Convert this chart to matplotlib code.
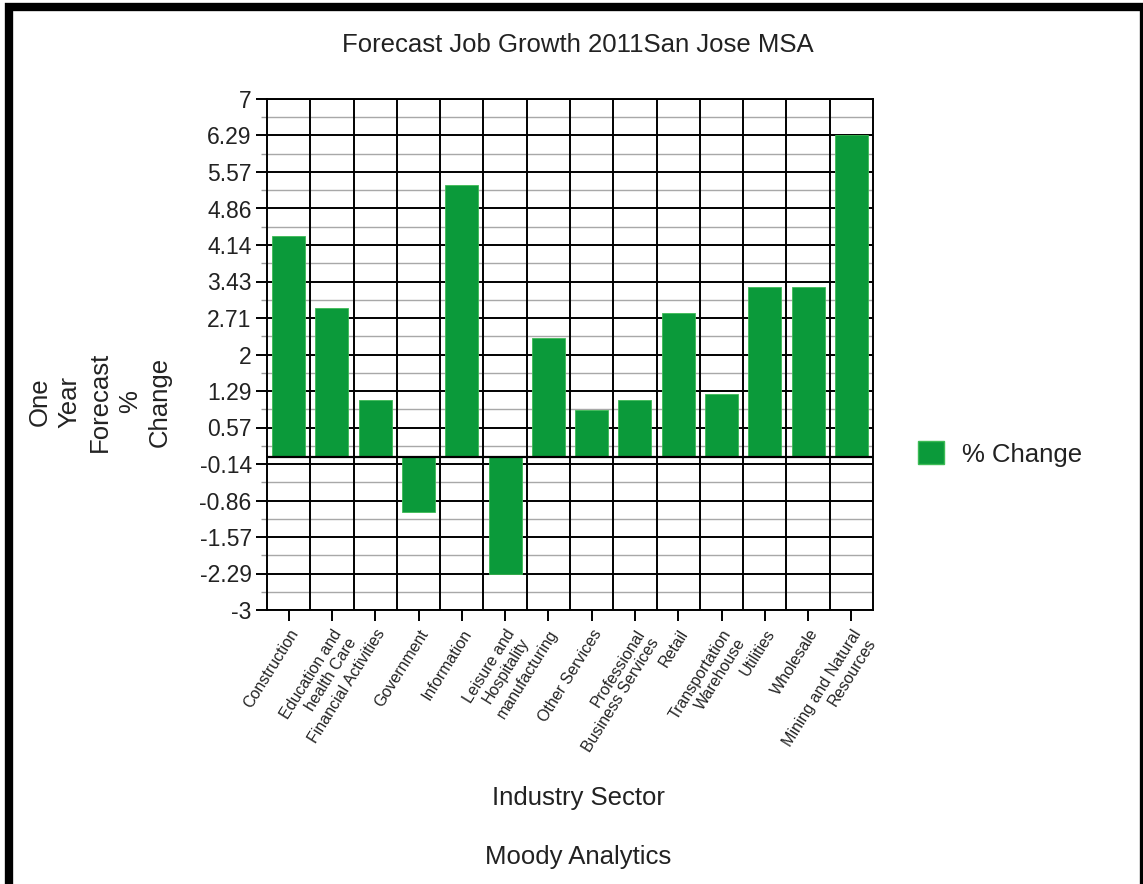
import numpy as np
import matplotlib
matplotlib.use("Agg")
import matplotlib.pyplot as plt
from matplotlib.patches import Rectangle, Patch

plt.rcParams["font.family"] = ["Liberation Sans", "DejaVu Sans"]

# data
sectors = [
    "Construction", "Education and\nhealth Care", "Financial Activities",
    "Government", "Information", "Leisure and\nHospitality", "manufacturing",
    "Other Services", "Professional\nBusiness Services", "Retail",
    "Transportation\nWarehouse", "Utilities", "Wholesale",
    "Mining and Natural\nResources",
]
pct_change = [4.32, 2.91, 1.11, -1.08, 5.31, -2.30, 2.32,
              0.91, 1.11, 2.81, 1.23, 3.32, 3.32, 6.29]
ytick_labels = ["-3", "-2.29", "-1.57", "-0.86", "-0.14", "0.57", "1.29",
                "2", "2.71", "3.43", "4.14", "4.86", "5.57", "6.29", "7"]
ymin, ymax = -3, 7
green = "#0b9a3a"
txt = "#222222"

W, H = 1143, 884
fig = plt.figure(figsize=(W / 100, H / 100), dpi=100)
ax = fig.add_axes([267 / W, 1 - 610 / H, 606 / W, 511 / H])

x = np.arange(len(sectors))
ax.bar(x, pct_change, width=0.76, color=green, edgecolor="#3dbb55",
       linewidth=0.6, zorder=3)

ax.set_xlim(-0.5, len(sectors) - 0.5)
ax.set_ylim(ymin, ymax)

yt = np.linspace(ymin, ymax, len(ytick_labels))
ax.set_yticks(yt)
ax.set_yticklabels(ytick_labels, fontsize=16.5, color=txt)
ax.set_yticks((yt[:-1] + yt[1:]) / 2, minor=True)
ax.tick_params(axis="y", which="major", length=8, width=1.4, color="black", pad=3)
ax.tick_params(axis="y", which="minor", length=4, width=1, color="#9a9a9a")

ax.set_xticks(x)
ax.set_xticklabels(sectors, rotation=58, ha="right", rotation_mode="anchor",
                   fontsize=11.5, color=txt, linespacing=1.15)
ax.tick_params(axis="x", length=8, width=1.4, pad=4)

# grid: black majors, gray minors, vertical lines between categories
ax.grid(axis="y", which="major", color="black", linewidth=1.4, zorder=0)
ax.grid(axis="y", which="minor", color="#a8a8a8", linewidth=1.0, zorder=0)
for b in np.arange(0.5, len(sectors) - 1, 1.0):
    ax.axvline(b, color="black", linewidth=1.4, zorder=1)
ax.axhline(0, color="black", linewidth=1.6, zorder=4)
ax.set_axisbelow(True)
for s in ax.spines.values():
    s.set_color("black")
    s.set_linewidth(1.4)

fig.text(578 / W, 1 - 45 / H, "Forecast Job Growth 2011San Jose MSA",
         ha="center", va="center", fontsize=18.5, color=txt)
fig.text(100 / W, 1 - 402 / H, "One\nYear\nForecast\n%\nChange", rotation=90,
         ha="center", va="center", multialignment="center", fontsize=18.5,
         color=txt, linespacing=1.32)
fig.text(578 / W, 1 - 798 / H, "Industry Sector", ha="center", va="center",
         fontsize=18.5, color=txt)
fig.text(578 / W, 1 - 857 / H, "Moody Analytics", ha="center", va="center",
         fontsize=18.5, color=txt)

fig.legend(handles=[Patch(facecolor=green, edgecolor="#3dbb55", label="% Change")],
           loc="center left", bbox_to_anchor=(895 / W, 1 - 454 / H),
           frameon=False, fontsize=18.5, handlelength=1.0, handleheight=1.0,
           handletextpad=0.7, labelcolor=txt)

# thick page border
fig.patches.append(Rectangle((8.5 / W, -2 / H), (1144 - 8.5) / W, (884 - 7 + 2) / H,
                             transform=fig.transFigure, fill=False,
                             edgecolor="black", linewidth=6, zorder=10))

fig.savefig("out.png", dpi=100)
